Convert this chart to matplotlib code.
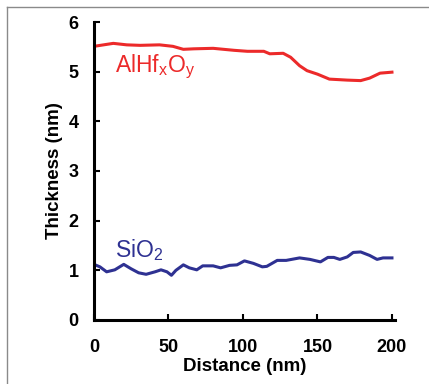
import matplotlib
matplotlib.use('Agg')
import matplotlib.pyplot as plt
from matplotlib.lines import Line2D

plt.rcParams['font.family'] = ['Liberation Sans', 'DejaVu Sans']

# AlHfxOy film thickness along the line
dist_al = [0, 13, 22, 31, 44, 53, 60, 67, 80, 94, 103, 114, 118, 127, 132,
           138, 143, 150, 158, 170, 179, 185, 192, 200]
thick_al = [5.51, 5.57, 5.54, 5.53, 5.54, 5.51, 5.45, 5.46, 5.47, 5.43, 5.41,
            5.41, 5.36, 5.37, 5.29, 5.12, 5.02, 4.95, 4.85, 4.83, 4.82, 4.87,
            4.97, 4.99]

# SiO2 interlayer thickness
dist_si = [0, 4, 8.5, 14, 20, 25, 30, 35, 41, 45, 49, 52, 55, 60, 64, 69, 73,
           80, 85, 91, 96, 101, 107, 113, 116, 123, 129, 138, 145, 152, 157,
           161, 165, 170, 174, 179, 185, 190, 194, 200]
thick_si = [1.12, 1.07, 0.97, 1.01, 1.12, 1.03, 0.95, 0.92, 0.97, 1.01, 0.97,
            0.90, 1.00, 1.11, 1.05, 1.01, 1.09, 1.09, 1.05, 1.10, 1.11, 1.19,
            1.14, 1.07, 1.08, 1.20, 1.20, 1.25, 1.22, 1.17, 1.26, 1.26, 1.22,
            1.27, 1.36, 1.37, 1.30, 1.22, 1.25, 1.25]

xticks = [0, 50, 100, 150, 200]
yticks = [0, 1, 2, 3, 4, 5, 6]

red = '#ec2a2a'
blue = '#2e3192'

fig = plt.figure(figsize=(4.29, 3.84), dpi=100)
ax = fig.add_axes([0.219, 0.1667, 0.7016, 0.776])

ax.plot(dist_al, thick_al, color=red, lw=2.2)
ax.plot(dist_si, thick_si, color=blue, lw=2.2)

ax.text(14, 5.0, 'AlHf$_\\mathregular{x}$O$_\\mathregular{y}$', color=red, fontsize=16.5)
ax.text(14, 1.27, 'SiO$_\\mathregular{2}$', color=blue, fontsize=16.5)

ax.set_xlim(0, 202)
ax.set_ylim(0, 6)
ax.set_xticks(xticks)
ax.set_yticks(yticks)
ax.tick_params(direction='in', length=4, width=1.5, labelsize=13)
ax.tick_params(axis='x', pad=14)
ax.tick_params(axis='y', pad=11)
for lab in ax.get_xticklabels() + ax.get_yticklabels():
    lab.set_fontweight('bold')

for s in ['top', 'right']:
    ax.spines[s].set_visible(False)
for s in ['left', 'bottom']:
    ax.spines[s].set_linewidth(2.2)

ax.set_xlabel('Distance (nm)', fontsize=13.5, fontweight='bold', labelpad=1)
ax.set_ylabel('Thickness (nm)', fontsize=13.5, fontweight='bold', labelpad=4)

# grey frame around the panel (cropped at right and bottom)
fig.add_artist(Line2D([0.0163, 1.0], [0.982, 0.982], color='#8a8a8a', lw=1,
                      transform=fig.transFigure))
fig.add_artist(Line2D([0.0163, 0.0163], [0.982, 0.0], color='#8a8a8a', lw=1,
                      transform=fig.transFigure))

fig.savefig('out.png', dpi=100)
